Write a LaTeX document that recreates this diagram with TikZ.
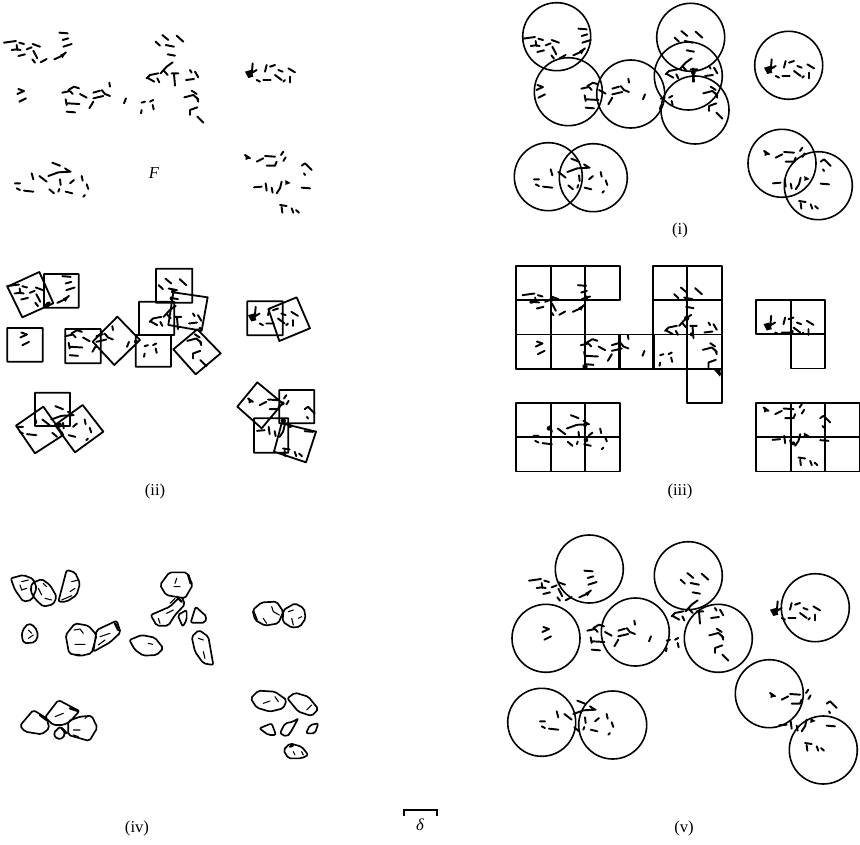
\documentclass[tikz,border=0pt]{standalone}
\usepackage{fontspec}
\setmainfont{Liberation Serif}
\tikzset{
  st/.style={line width=1.45pt,line cap=round,line join=round},
  outl/.style={line width=1.2pt,line join=round},
  cellline/.style={line width=1.35pt,line join=round},
  hull/.style={line width=1.25pt,line join=round,line cap=round,rounded corners=1.5pt},
  lab/.style={font=\fontsize{12.5pt}{14pt}\selectfont,inner sep=0pt}
}
\newcommand{\Fstrokes}{%
\draw[st]
 (12,68)--(48,63) (35,90)--(50,88)--(62,90) (50,75)--(52,90) (58,68)--(72,72)
 (55,108)--(75,103) (80,88)--(95,82) (98,72)--(120,80) (100,92)--(112,115)
 (97,118)--(105,128) (122,127)--(140,117) (178,38)--(203,40) (188,60)--(205,55)
 (190,80)--(215,72) (163,118)--(185,108)--(198,97)
 (55,207)--(72,213)--(52,222) (58,245)--(78,235)
 (187,218)--(210,213) (205,210)--(222,200)--(237,205) (212,215)--(218,222)
 (240,222)--(260,233) (197,238)--(200,255) (203,250)--(238,252) (200,275)--(225,277)
 (280,218)--(300,212) (280,235)--(310,228) (268,265)--(280,245)
 (305,210)--(315,222)--(330,228) (328,188)--(330,200)
 (378,235)--(372,250) (425,248)--(435,245) (423,280)--(425,270) (450,245)--(460,240) (458,255)--(461,268)
 (487,45)--(505,60) (530,47)--(550,65) (467,65)--(480,77) (497,75)--(522,80) (503,103)--(525,107)
 (482,160)--(500,140)--(518,127) (490,150)--(503,165) (440,175)--(450,165)--(475,160)
 (445,175)--(463,185) (472,175)--(478,187) (515,160)--(535,160) (522,162)--(525,197)
 (570,150)--(575,158) (585,155)--(595,172) (558,180)--(582,177)
 (553,232)--(580,225)--(595,238) (575,212)--(590,222) (590,232)--(595,245)
 (570,285)--(570,270)--(592,262) (592,290)--(610,308)
 (745,165)--(770,150) (758,130)--(755,165) (770,180)--(780,185) (790,180)--(812,180)
 (795,155)--(800,135) (810,140)--(825,135) (825,165)--(845,180) (835,150)--(848,155)
 (865,145)--(885,157) (870,170)--(870,187) (855,180)--(850,185)
 (157,428)--(180,437) (145,468)--(175,457)--(212,455) (195,445)--(210,455)
 (95,460)--(100,478) (118,468)--(140,485) (45,490)--(60,490) (50,505)--(60,510)
 (72,512)--(100,515) (180,478)--(182,495) (148,508)--(162,520) (175,515)--(178,507)
 (197,515)--(217,520) (210,490)--(222,480) (245,468)--(248,482) (260,493)--(265,507) (250,530)--(255,525)
 (735,405)--(750,415) (770,425)--(790,415) (795,408)--(825,410) (800,437)--(825,437)--(830,425)
 (843,405)--(850,395) (850,423)--(857,412) (905,437)--(915,430)--(935,450) (912,460)--(915,465)
 (762,502)--(785,500) (797,490)--(800,512) (815,503)--(818,518) (830,520)--(840,505)--(845,485)
 (905,503)--(930,505) (840,555)--(860,558) (845,562)--(847,578) (875,565)--(880,578) (888,570)--(897,578);
\fill (736,402)--(752,414)--(737,420)--cycle (856,480)--(872,489)--(856,495)--cycle
 (735,155)--(752,150)--(760,170)--(745,174)--cycle (180,105)--(198,96)--(188,115)--cycle;
}
\newcommand{\cellbox}[2]{\draw[cellline] (#1,#2) rectangle ++(34.6,34.4);}
\begin{document}
\begin{tikzpicture}[x=0.75pt,y=-0.75pt]
\useasboundingbox (0,0) rectangle (860,845);
% F
\begin{scope}[shift={(0,20)},scale=1/3]\Fstrokes\end{scope}
\node[lab] (F) at (154,173) {\textit{F}};
% (i)
\begin{scope}[shift={(519,16)},scale=1/3]\Fstrokes\end{scope}
\foreach \c/\r in {556.7/36.7,568.3/91.7,630.7/94,690.7/37.3,688.3/76,695/110,788.7/65.3,548.3/176.7,593.3/177.7,782/163.3,818.3/185.7}
  {\draw[outl] (\c,\r) circle[radius=34];}
\begin{scope}[shift={(500,0)},scale=1/3]
\fill (580,218) circle[radius=7];
\draw[st] (580,205)--(580,245);
\end{scope}
\node[lab] (li) at (680,230) {(i)};
% (ii)
\begin{scope}[shift={(3,263.5)},scale=1/3]\Fstrokes\end{scope}
\begin{scope}[shift={(0,260)},scale=1/3]
\draw[cellline]
 (22,80)--(118,36)--(160,130)--(67,172)--cycle
 (132,42) rectangle (236,143)
 (22,204) rectangle (128,305)
 (196,207) rectangle (302,310)
 (352,170)--(420,240)--(343,315)--(278,245)--cycle
 (407,225) rectangle (513,320)
 (417,125) rectangle (523,225)
 (468,26) rectangle (577,128)
 (520,97)--(623,112)--(605,212)--(505,195)--cycle
 (592,208)--(662,280)--(587,343)--(520,268)--cycle
 (742,124) rectangle (848,226)
 (805,147)--(890,112)--(930,205)--(838,243)--cycle
 (105,398) rectangle (210,498)
 (48,497)--(130,440)--(190,525)--(105,580)--cycle
 (248,435)--(310,515)--(225,577)--(165,495)--cycle
 (772,367)--(848,430)--(785,505)--(712,440)--cycle
 (838,390) rectangle (943,490)
 (762,475) rectangle (865,578)
 (845,490)--(948,515)--(918,607)--(822,575)--cycle;
\fill (515,115) circle[radius=6] (520,95) circle[radius=7] (178,495) circle[radius=8]
 (850,482) circle[radius=8] (848,430) circle[radius=6] (145,132) circle[radius=7]
 (408,245) circle[radius=6] (290,260) circle[radius=4] (600,205) circle[radius=5];
\end{scope}
\node[lab] (lii) at (155,491) {(ii)};
% (iii)
\begin{scope}[shift={(518.5,272.5)},scale=1/3]\Fstrokes\end{scope}
\foreach \x/\y in {516/265.7,550.6/265.7,585.2/265.7,652.7/265.7,687.3/265.7,
  516/300.1,550.6/300.1,652.7/300.1,687.3/300.1,
  516/334.5,550.6/334.5,585.2/334.5,619.3/334.5,652.7/334.5,687.3/334.5,
  687.3/368.9,
  756/299.7,790.6/299.7,790.6/334.1,
  516/402.7,550.6/402.7,585.2/402.7,516/437.1,550.6/437.1,585.2/437.1,
  756/402.7,790.6/402.7,825.2/402.7,756/437.1,790.6/437.1,825.2/437.1}
  {\cellbox{\x}{\y}}
\begin{scope}[shift={(500,255)},scale=1/3]
\fill (155,133) circle[radius=7] (258,128) circle[radius=7] (95,140) circle[radius=6]
 (560,190) circle[radius=8] (562,132) circle[radius=5] (575,238) circle[radius=6]
 (255,335) circle[radius=8] (255,510) circle[radius=6] (147,520) circle[radius=7]
 (258,555) circle[radius=7] (875,230) circle[radius=6] (880,565) circle[radius=6]
 (640,342)--(662,342)--(660,365)--cycle;
\end{scope}
\node[lab] (liii) at (680,491) {(iii)};
% (iv)
\begin{scope}[shift={(0,555)},scale=1/3]
\draw[hull]
 (32,70)--(70,60)--(100,72)--(110,100)--(95,135)--(70,140)--(45,105)--cycle
 (95,85)--(125,72)--(150,90)--(170,125)--(160,148)--(130,155)--(108,135)--(92,110)--cycle
 (175,140)--(200,45)--(225,52)--(240,85)--(230,120)--(200,140)--cycle
 (68,225)--(85,205)--(105,215)--(115,240)--(105,262)--(72,265)--(65,245)--cycle
 (197,240)--(225,205)--(265,212)--(290,240)--(275,295)--(240,303)--(207,295)--cycle
 (290,225)--(350,197)--(362,232)--(330,262)--(280,290)--cycle
 (388,255)--(425,240)--(465,248)--(490,280)--(470,300)--(430,302)--(405,285)--cycle
 (480,90)--(508,52)--(560,52)--(578,90)--(555,130)--(525,125)--(498,120)--cycle
 (452,180)--(510,155)--(535,130)--(545,125)--(555,148)--(525,180)--(505,212)--(470,212)--cycle
 (533,180)--(560,165)--(560,195)--(548,215)--cycle
 (572,203)--(587,155)--(620,185)--(615,203)--cycle
 (575,245)--(597,225)--(625,245)--(640,330)--(610,325)--(585,290)--cycle
 (758,165)--(785,142)--(830,140)--(850,170)--(835,205)--(795,212)--(765,195)--cycle
 (850,165)--(885,145)--(912,160)--(917,190)--(900,215)--(875,218)--(848,200)--cycle
 (60,512)--(100,465)--(140,490)--(148,520)--(125,538)--(75,530)--cycle
 (135,487)--(175,435)--(238,468)--(210,500)--(190,510)--(160,510)--cycle
 (205,498)--(240,485)--(275,482)--(292,518)--(268,558)--(205,540)--cycle
 (160,535)--(180,515)--(195,530)--(190,550)--(170,552)--cycle
 (752,430)--(775,407)--(825,410)--(860,435)--(850,460)--(810,470)--(770,458)--cycle
 (862,430)--(885,413)--(925,425)--(955,462)--(935,483)--(895,470)--cycle
 (778,520)--(815,505)--(828,540)--(805,540)--cycle
 (840,535)--(855,505)--(880,500)--(895,490)--(870,535)--(860,545)--cycle
 (918,535)--(930,510)--(955,505)--(945,535)--cycle
 (850,585)--(870,565)--(905,575)--(925,600)--(905,610)--(865,610)--cycle;
\draw[line width=0.8pt,line cap=round]
 (60,90)--(65,105)--(80,100) (65,80)--(85,75) (115,100)--(125,120) (135,130)--(155,135) (130,85)--(140,95)
 (215,80)--(235,75) (210,110)--(225,100) (185,135)--(215,122)
 (85,225)--(95,235) (85,250)--(100,240)
 (222,225)--(240,222)--(250,235) (225,268)--(255,268) (220,298)--(240,298)
 (300,245)--(330,235) (295,270)--(315,255)
 (445,265)--(458,268) (522,95)--(540,95) (530,70)--(525,85)
 (500,175)--(520,165) (475,190)--(480,205) (510,145)--(525,130)
 (595,250)--(610,255) (610,290)--(615,310)
 (815,155)--(820,170)--(838,180) (790,190)--(800,205)
 (865,170)--(880,165) (875,190)--(880,210) (895,190)--(905,185)
 (165,485)--(190,475) (220,525)--(240,525) (220,540)--(235,545) (255,490)--(262,485)
 (790,445)--(810,438) (825,425)--(835,440) (920,465)--(935,450)
 (880,590)--(885,600) (905,590)--(910,600);
\draw[line width=1.8pt,line cap=round]
 (345,205)--(355,225) (565,60)--(572,85) (530,125)--(545,140) (760,170)--(770,195)
 (120,480)--(140,495) (210,460)--(235,468) (880,570)--(870,575) (185,520)--(200,535);
\end{scope}
\node[lab] (liv) at (137,828) {(iv)};
% (v)
\begin{scope}[shift={(525,558)},scale=1/3]\Fstrokes\end{scope}
\foreach \c/\r in {589.3/569,688.3/575.7,546/638.3,635.3/632,718.3/638.3,815.3/607.7,769.3/693.7,823.3/750,541.7/722.3,612.7/725}
  {\draw[outl] (\c,\r) circle[radius=34];}
\node[lab] (lv) at (684,828) {(v)};
% scale bar
\coordinate (b1) at (404,816);
\coordinate (b2) at (404,810);
\coordinate (b3) at (437,810);
\coordinate (b4) at (437,816);
\draw[line width=0.9pt] (b1)--(b2)--(b3)--(b4);
\node[lab] (delta) at (420,825) {\textit{δ}};
\end{tikzpicture}
\end{document}
